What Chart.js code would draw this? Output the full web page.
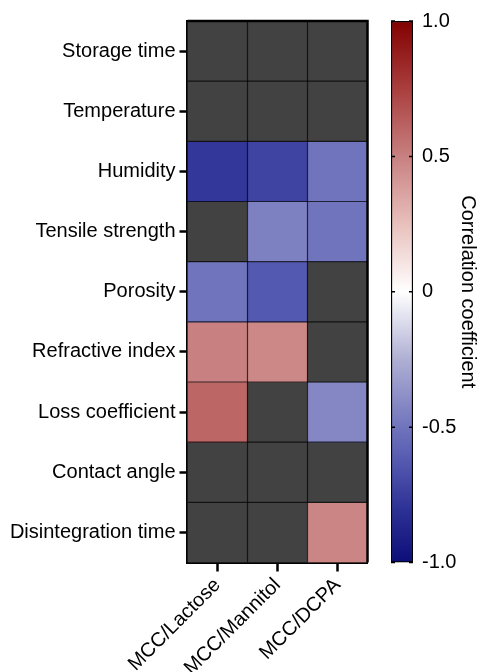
<!DOCTYPE html>
<html>
<head>
<meta charset="utf-8">
<script src="https://cdn.jsdelivr.net/npm/chart.js@4/dist/chart.umd.min.js"></script>
<style>
  html, body { margin: 0; padding: 0; background: #fff; }
  #wrap { position: relative; width: 484px; height: 672px; }
  #wrap canvas { position: absolute; left: 0; top: 0; }
</style>
</head>
<body>
<div id="wrap">
  <canvas id="heat" width="484" height="672"></canvas>
  <canvas id="bar" width="484" height="672"></canvas>
</div>
<script>
// ---- data ----
const rowLabels = ['Storage time', 'Temperature', 'Humidity', 'Tensile strength', 'Porosity',
                   'Refractive index', 'Loss coefficient', 'Contact angle', 'Disintegration time'];
const colLabels = ['MCC/Lactose', 'MCC/Mannitol', 'MCC/DCPA'];
// correlation coefficients per row (null = not significant, shown dark grey)
const lactose  = [null, null, -0.78, null, -0.50, 0.50, 0.60, null, null];
const mannitol = [null, null, -0.72, -0.45, -0.63, 0.47, null, null, null];
const dcpa     = [null, null, -0.50, -0.50, null, null, -0.42, null, 0.48];
const colorbarTicks = [-1, -0.5, 0, 0.5, 1];
const colorbarTickLabels = ['-1.0', '-0.5', '0', '0.5', '1.0'];
const colorbarTitle = 'Correlation coefficient';

// ---- colour map (blue - white - red) ----
const cmapStops = [-1, -0.8, -0.6, -0.5, -0.25, 0, 0.25, 0.5, 0.75, 1];
const cmapRGB = [[12,14,120],[45,50,150],[90,95,180],[112,116,188],[175,175,212],
                 [255,255,255],[232,192,188],[200,128,128],[170,62,62],[130,0,0]];
const NA_COLOR = '#424242';
function cmap(v) {
  if (v === null || v === undefined) return NA_COLOR;
  v = Math.max(-1, Math.min(1, v));
  for (let i = 0; i < cmapStops.length - 1; i++) {
    if (v >= cmapStops[i] && v <= cmapStops[i + 1]) {
      const t = (v - cmapStops[i]) / (cmapStops[i + 1] - cmapStops[i]);
      const a = cmapRGB[i], b = cmapRGB[i + 1];
      const c = a.map((x, k) => Math.round(x + (b[k] - x) * t));
      return `rgb(${c[0]},${c[1]},${c[2]})`;
    }
  }
  return NA_COLOR;
}

Chart.defaults.font.family = "'Liberation Sans', Arial, Helvetica, sans-serif";
Chart.defaults.font.size = 20;
Chart.defaults.color = '#000';

const columns = [lactose, mannitol, dcpa];
const datasets = rowLabels.map((name, r) => ({
  label: name,
  data: colLabels.map(() => [r - 0.5, r + 0.5]),
  backgroundColor: columns.map(col => cmap(col[r])),
  borderWidth: 0,
  barPercentage: 1,
  categoryPercentage: 1,
  grouped: false
}));

const cellLines = {
  id: 'cellLines',
  afterDatasetsDraw(chart) {
    const {ctx, chartArea: a, scales: {x, y}} = chart;
    ctx.save();
    ctx.strokeStyle = 'rgba(0,0,0,0.72)';
    ctx.lineWidth = 1.2;
    for (let i = 0; i < colLabels.length - 1; i++) {
      const px = (x.getPixelForValue(i) + x.getPixelForValue(i + 1)) / 2;
      ctx.beginPath(); ctx.moveTo(px, a.top); ctx.lineTo(px, a.bottom); ctx.stroke();
    }
    for (let r = 0; r < rowLabels.length - 1; r++) {
      const py = y.getPixelForValue(r + 0.5);
      ctx.beginPath(); ctx.moveTo(a.left, py); ctx.lineTo(a.right, py); ctx.stroke();
    }
    // top and right frame
    ctx.strokeStyle = '#000';
    ctx.lineWidth = 2.5;
    ctx.beginPath();
    ctx.moveTo(a.left, a.top); ctx.lineTo(a.right, a.top); ctx.lineTo(a.right, a.bottom);
    ctx.stroke();
    ctx.restore();
  }
};

new Chart(document.getElementById('heat'), {
  type: 'bar',
  data: { labels: colLabels, datasets },
  options: {
    responsive: false,
    animation: false,
    devicePixelRatio: 1,
    layout: { padding: { left: 0, top: 21, right: 116.5, bottom: 0 } },
    plugins: { legend: { display: false }, tooltip: { enabled: false } },
    scales: {
      x: {
        type: 'category',
        offset: true,
        z: 1,
        afterFit(s) { s.height = 672 - 562.5; },
        grid: { drawOnChartArea: false, offset: false, tickLength: 9, tickWidth: 2.5, tickColor: '#000' },
        border: { display: true, width: 3, color: '#000' },
        ticks: { maxRotation: 45, minRotation: 45, padding: 2, autoSkip: false, color: '#000' }
      },
      y: {
        type: 'linear',
        min: -0.5, max: 8.5,
        reverse: true,
        z: 1,
        afterFit(s) { s.width = 187.5; },
        afterBuildTicks(s) { s.ticks = rowLabels.map((_, i) => ({ value: i })); },
        grid: { drawOnChartArea: false, tickLength: 8, tickWidth: 2.5, tickColor: '#000' },
        border: { display: true, width: 3, color: '#000' },
        ticks: { autoSkip: false, padding: 4, color: '#000', callback: v => rowLabels[v] }
      }
    }
  },
  plugins: [cellLines]
});

// ---- colour bar ----
const barTicks = {
  id: 'barTicks',
  afterDatasetsDraw(chart) {
    const {ctx, chartArea: a, scales: {y}} = chart;
    ctx.save();
    ctx.strokeStyle = '#000';
    ctx.lineWidth = 1.5;
    colorbarTicks.forEach(v => {
      const py = y.getPixelForValue(v);
      ctx.beginPath();
      ctx.moveTo(a.left, py); ctx.lineTo(a.left + 4, py);
      ctx.moveTo(a.right - 4, py); ctx.lineTo(a.right, py);
      ctx.stroke();
    });
    ctx.restore();
  }
};

new Chart(document.getElementById('bar'), {
  type: 'bar',
  data: {
    labels: [''],
    datasets: [{
      data: [[-1, 1]],
      barPercentage: 1,
      categoryPercentage: 1,
      borderWidth: 1.5,
      borderColor: '#000',
      borderSkipped: false,
      backgroundColor(ctx) {
        const chart = ctx.chart;
        const y = chart.scales.y;
        if (!chart.chartArea || !y) return '#fff';
        const y0 = y.getPixelForValue(-1), y1 = y.getPixelForValue(1);
        const g = chart.ctx.createLinearGradient(0, y0, 0, y1);
        cmapStops.forEach(v => g.addColorStop((v + 1) / 2, cmap(v)));
        return g;
      }
    }]
  },
  options: {
    responsive: false,
    animation: false,
    devicePixelRatio: 1,
    layout: { padding: { left: 391, top: 21, right: 0, bottom: 672 - 562.5 } },
    plugins: { legend: { display: false }, tooltip: { enabled: false } },
    scales: {
      x: { display: false },
      y: {
        type: 'linear',
        position: 'right',
        min: -1, max: 1,
        afterFit(s) { s.width = 484 - 413; },
        afterBuildTicks(s) { s.ticks = colorbarTicks.map(v => ({ value: v })); },
        grid: { display: false, drawTicks: false },
        border: { display: false },
        ticks: {
          padding: 9, color: '#000',
          callback: v => colorbarTickLabels[colorbarTicks.indexOf(v)]
        },
        title: { display: true, text: colorbarTitle, color: '#000', padding: 4 }
      }
    }
  },
  plugins: [barTicks]
});
</script>
</body>
</html>
